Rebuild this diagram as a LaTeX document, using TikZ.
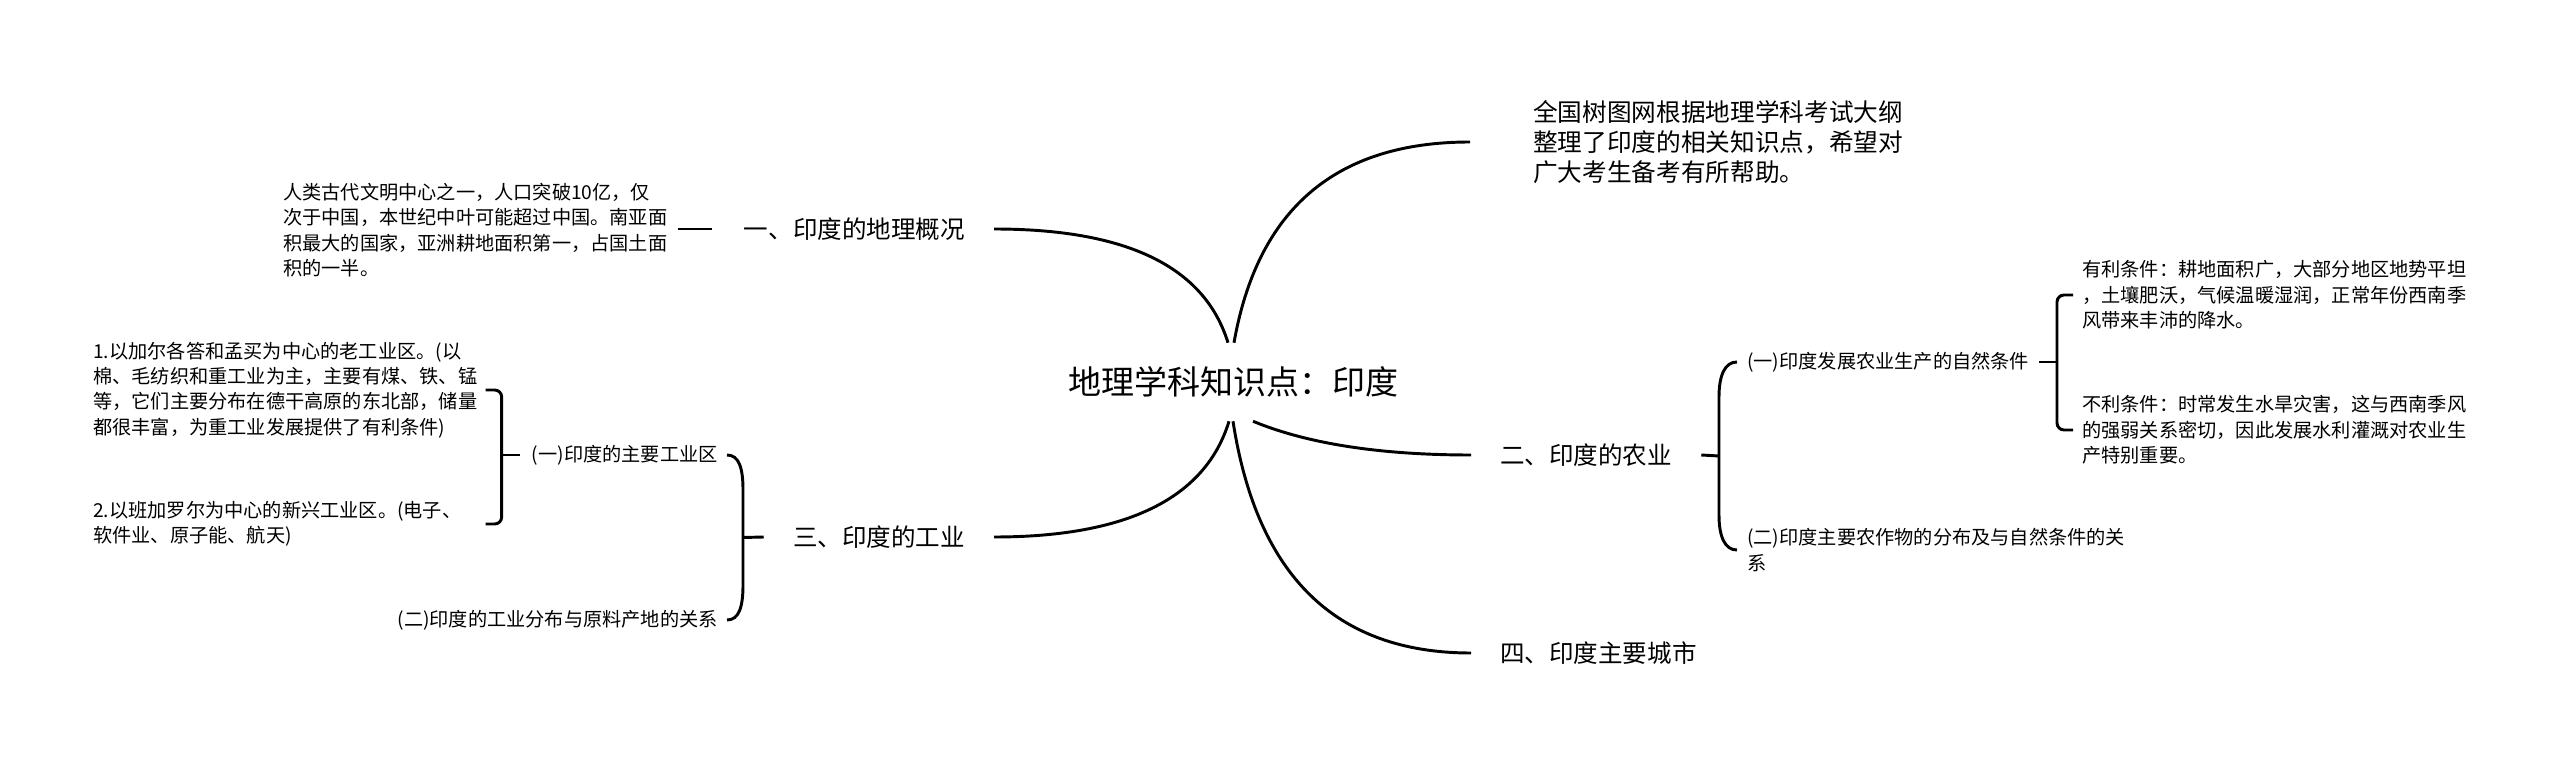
\documentclass[tikz,border=0pt]{standalone}
\usepackage{fontspec}
\setmainfont{Noto Sans CJK SC}
\usetikzlibrary{calc}
\tikzset{
  conn/.style={line width=2.2pt, draw=black},
  ttl/.style={font=\fontsize{24.75pt}{30pt}\selectfont, inner xsep=0pt, inner ysep=0pt, minimum height=58.5pt, text=black},
  lvl/.style={font=\fontsize{18.4pt}{22pt}\selectfont, inner sep=0pt, text=black},
  intro/.style={font=\fontsize{18.5pt}{22.5pt}\selectfont, inner sep=0pt, align=left, text=black},
  small/.style={font=\fontsize{14.4pt}{19.1pt}\selectfont, inner sep=0pt, align=left, text=black},
}
\begin{document}
\begin{tikzpicture}[x=0.75pt,y=-0.75pt]
\fill[white] (0,0) rectangle (2560,766);
\useasboundingbox (0,0) rectangle (2560,766);

% centre
\node[ttl] (t) at (1233,382) {地理学科知识点：印度};

% level 1
\node[intro, anchor=west] (n0) at (1533,142) {全国树图网根据地理学科考试大纲\\整理了印度的相关知识点，希望对\\广大考生备考有所帮助。};
\node[lvl, anchor=east] (n1) at (965,229) {一、印度的地理概况};
\node[lvl, anchor=west] (n2) at (1500,455) {二、印度的农业};
\node[lvl, anchor=east] (n3) at (965,537) {三、印度的工业};
\node[lvl, anchor=west] (n4) at (1500,653) {四、印度主要城市};

% children of 一
\node[small, anchor=west] (d1) at (283,230) {人类古代文明中心之一，人口突破10亿，仅\\次于中国，本世纪中叶可能超过中国。南亚面\\积最大的国家，亚洲耕地面积第一，占国土面\\积的一半。};

% children of 三
\node[small, anchor=east] (i1) at (718,455) {(一)印度的主要工业区};
\node[small, anchor=east] (i2) at (718,620) {(二)印度的工业分布与原料产地的关系};
\node[small, anchor=west] (i11) at (93,390) {1.以加尔各答和孟买为中心的老工业区。(以\\棉、毛纺织和重工业为主，主要有煤、铁、锰\\等，它们主要分布在德干高原的东北部，储量\\都很丰富，为重工业发展提供了有利条件)};
\node[small, anchor=west] (i12) at (93,524) {2.以班加罗尔为中心的新兴工业区。(电子、\\软件业、原子能、航天)};

% children of 二
\node[small, anchor=west] (a1) at (1747,362) {(一)印度发展农业生产的自然条件};
\node[small, anchor=west] (a2) at (1747,550) {(二)印度主要农作物的分布及与自然条件的关\\系};
\node[small, anchor=west] (a11) at (2082,295) {有利条件：耕地面积广，大部分地区地势平坦\\，土壤肥沃，气候温暖湿润，正常年份西南季\\风带来丰沛的降水。};
\node[small, anchor=west] (a12) at (2082,430) {不利条件：时常发生水旱灾害，这与西南季风\\的强弱关系密切，因此发展水利灌溉对农业生\\产特别重要。};

% main curved connectors
\draw[conn] ($(n1.east)+(29,0)$) .. controls +(133,0) and +(-23.5,-76) .. ($(t.north)+(-5,0)$);
\draw[conn] ($(n0.west)+(-63,0)$) .. controls +(-134,0) and +(23.6,-134) .. ($(t.north)+(1,0)$);
\draw[conn] ($(n3.east)+(29,0)$) .. controls +(133,0) and +(-23.5,77) .. ($(t.south)+(-4,0)$);
\draw[conn] ($(n4.west)+(-29,0)$) .. controls +(-135,0) and +(24,155) .. ($(t.south)+(0,0)$);
\draw[conn] ($(n2.west)+(-29,0)$) .. controls +(-90,0) and +(55,22.7) .. ($(t.south)+(20,0)$);

% 一 -> description
\coordinate (d1e) at ($(d1.east |- n1.west)+(10,0)$);
\draw[conn] (d1e) -- ($(n1.west)+(-32,0)$);

% 三 brace
\coordinate (bA) at ($(i1.east)+(9,0)$);
\coordinate (bC) at ($(i2.east)+(9,0)$);
\coordinate (m4) at ($(bA)!0.5!(bC)+(16,0)$);
\draw[conn] ($(n3.west)+(-29,0)$) -- (m4);
\draw[conn] (bA) .. controls +(12,0) and +(0,-22) .. ($(bA)+(16,35)$) -- ($(bC)+(16,-35)$) .. controls +(0,22) and +(12,0) .. (bC);

% (一)主要工业区 brace
\coordinate (s1t) at ($(i11.east)+(8,0)$);
\coordinate (s1b) at (s1t |- i12.west);
\coordinate (m1) at ($(i1.west)+(-30,0)$);
\draw[conn] ($(i1.west)+(-12,0)$) -- (m1);
\draw[conn, rounded corners=5.25pt] (s1t) -| (m1) |- (s1b);

% 二 brace
\coordinate (cA) at ($(a1.west)+(-10,0)$);
\coordinate (cC) at ($(a2.west)+(-10,0)$);
\coordinate (m3) at ($(cA)!0.5!(cC)+(-18,0)$);
\draw[conn] ($(n2.east)+(29,0)$) -- (m3);
\draw[conn] (cA) .. controls +(-12,0) and +(0,-22) .. ($(cA)+(-18,35)$) -- ($(cC)+(-18,-35)$) .. controls +(0,22) and +(-12,0) .. (cC);

% (一)自然条件 brace
\coordinate (s2t) at ($(a11.west)+(-9,0)$);
\coordinate (s2b) at ($(a12.west)+(-9,0)$);
\coordinate (m2) at ($(s2t |- a1.east)+(-16,0)$);
\draw[conn] ($(a1.east)+(10,0)$) -- (m2);
\draw[conn, rounded corners=5.25pt] (s2t) -| (m2) |- (s2b);
\end{tikzpicture}
\end{document}
